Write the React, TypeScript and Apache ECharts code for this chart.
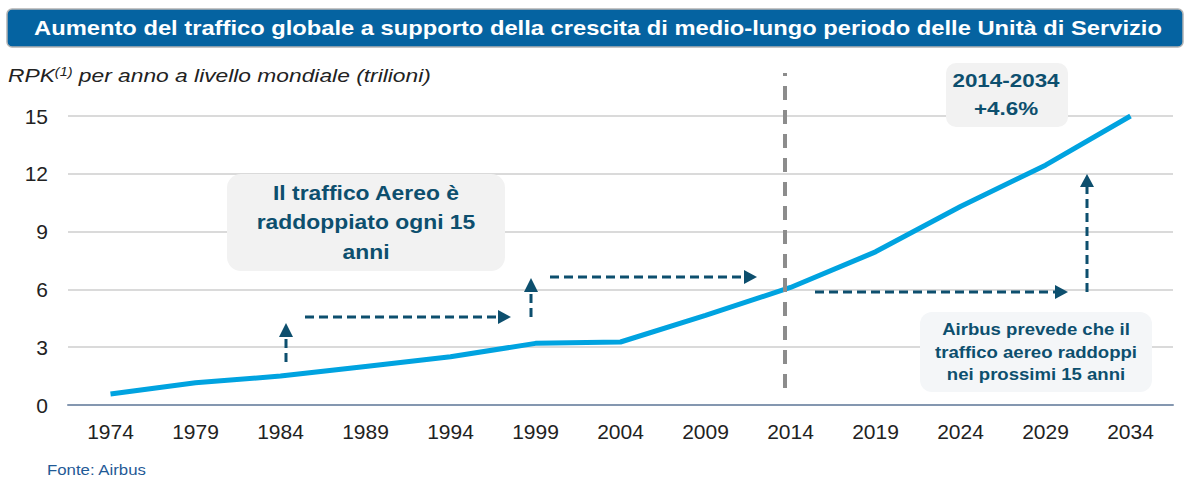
import React, { useEffect, useRef } from "react";
import * as echarts from "echarts";

const years = ["1974", "1979", "1984", "1989", "1994", "1999", "2004", "2009", "2014", "2019", "2024", "2029", "2034"];
const rpk = [0.57, 1.15, 1.5, 2.0, 2.5, 3.2, 3.27, 4.65, 6.1, 7.95, 10.3, 12.45, 15.0];
const yMin = 0;
const yMax = 15;
const yStep = 3;

const titleText = "Aumento del traffico globale a supporto della crescita di medio-lungo periodo delle Unità di Servizio";
const box1Text = "Il traffico Aereo è\nraddoppiato ogni 15\nanni";
const box2Text = "2014-2034\n+4.6%";
const box3Text = "Airbus prevede che il\ntraffico aereo raddoppi\nnei prossimi 15 anni";
const sourceText = "Fonte: Airbus";

const FONT = 'Arial, "Liberation Sans", sans-serif';
const TEAL = "#0d4f6e";

function dashLine(x1: number, y1: number, x2: number, y2: number) {
  return {
    type: "line",
    z: 10,
    shape: { x1, y1, x2, y2 },
    style: { stroke: TEAL, lineWidth: 3, lineDash: [9, 5] },
  };
}
function head(points: number[][]) {
  return { type: "polygon", z: 10, shape: { points }, style: { fill: TEAL } };
}

export default function App() {
  const ref = useRef<HTMLDivElement>(null);
  useEffect(() => {
    if (!ref.current) return;
    const chart = echarts.init(ref.current, undefined, { renderer: "svg" });
    chart.setOption({
      animation: false,
      textStyle: { fontFamily: FONT },
      grid: { left: 68, right: 11, top: 116, bottom: 72 },
      xAxis: {
        type: "category",
        data: years,
        boundaryGap: true,
        axisTick: { show: false },
        axisLine: { lineStyle: { color: "#8497b0", width: 2 } },
        axisLabel: { color: "#222", fontSize: 21, margin: 16, fontFamily: FONT },
      },
      yAxis: {
        type: "value",
        min: yMin,
        max: yMax,
        interval: yStep,
        axisLine: { show: false },
        axisTick: { show: false },
        axisLabel: { color: "#222", fontSize: 21, margin: 20, fontFamily: FONT },
        splitLine: { lineStyle: { color: "#dadada", width: 2 } },
      },
      series: [
        {
          type: "line",
          data: rpk,
          symbol: "none",
          lineStyle: { color: "#00a3e0", width: 5 },
          z: 3,
        },
      ],
      graphic: [
        {
          type: "rect",
          z: 10,
          shape: { x: 7, y: 9, width: 1176, height: 38, r: 5 },
          style: { fill: "#0563a1", stroke: "#b3b3b3", lineWidth: 1.5 },
        },
        {
          type: "text",
          z: 11,
          x: 598,
          y: 28,
          scaleX: 1.13,
          style: {
            text: titleText,
            fill: "#fff",
            font: `bold 21px ${FONT}`,
            align: "center",
            verticalAlign: "middle",
          },
        },
        {
          type: "text",
          z: 11,
          x: 8,
          y: 75,
          scaleX: 1.2,
          style: {
            text: "{a|RPK}{s|(1)}{a| per anno a livello mondiale (trilioni)}",
            verticalAlign: "middle",
            rich: {
              a: { fontSize: 19, fontStyle: "italic", fontFamily: FONT, fill: "#222", color: "#222" },
              s: { fontSize: 12, fontStyle: "italic", fontFamily: FONT, fill: "#222", color: "#222", verticalAlign: "top" },
            },
          },
        },
        {
          type: "line",
          z: 10,
          shape: { x1: 785, y1: 388, x2: 785, y2: 73 },
          style: { stroke: "#8c8c8c", lineWidth: 4, lineDash: [14, 10] },
        },
        {
          type: "rect",
          z: 10,
          shape: { x: 227, y: 174, width: 278, height: 97, r: 14 },
          style: { fill: "#f2f2f2" },
        },
        {
          type: "text",
          z: 11,
          x: 366,
          y: 222,
          scaleX: 1.09,
          style: {
            text: box1Text,
            fill: TEAL,
            font: `bold 21px ${FONT}`,
            lineHeight: 29.5,
            align: "center",
            verticalAlign: "middle",
          },
        },
        {
          type: "rect",
          z: 10,
          shape: { x: 946, y: 63, width: 122, height: 64, r: 10 },
          style: { fill: "#f2f2f2" },
        },
        {
          type: "text",
          z: 11,
          x: 1006,
          y: 94,
          scaleX: 1.18,
          style: {
            text: box2Text,
            fill: TEAL,
            font: `bold 19px ${FONT}`,
            lineHeight: 28,
            align: "center",
            verticalAlign: "middle",
          },
        },
        {
          type: "rect",
          z: 10,
          shape: { x: 920, y: 312, width: 232, height: 80, r: 12 },
          style: { fill: "#f4f6f8" },
        },
        {
          type: "text",
          z: 11,
          x: 1036,
          y: 352,
          scaleX: 1.16,
          style: {
            text: box3Text,
            fill: TEAL,
            font: `bold 16px ${FONT}`,
            lineHeight: 22.5,
            align: "center",
            verticalAlign: "middle",
          },
        },
        dashLine(286, 362, 286, 337),
        head([[279, 337], [286, 323], [293, 337]]),
        dashLine(305, 317, 498, 317),
        head([[498, 310], [511, 317], [498, 324]]),
        dashLine(531, 317, 531, 292),
        head([[524, 292], [531, 278], [538, 292]]),
        dashLine(550, 277, 744, 277),
        head([[744, 270], [757, 277], [744, 284]]),
        dashLine(815, 292, 1055, 292),
        head([[1055, 285], [1068, 292], [1055, 299]]),
        dashLine(1087, 292, 1087, 187),
        head([[1080, 187], [1087, 174], [1094, 187]]),
        {
          type: "text",
          z: 11,
          x: 47,
          y: 470,
          scaleX: 1.2,
          style: {
            text: sourceText,
            fill: "#1f5a96",
            font: `14px ${FONT}`,
            verticalAlign: "middle",
          },
        },
      ],
    });
    return () => chart.dispose();
  }, []);
  return (
    <div
      ref={ref}
      style={{ position: "fixed", left: 0, top: 0, width: 1184, height: 477, background: "#fff" }}
    />
  );
}
